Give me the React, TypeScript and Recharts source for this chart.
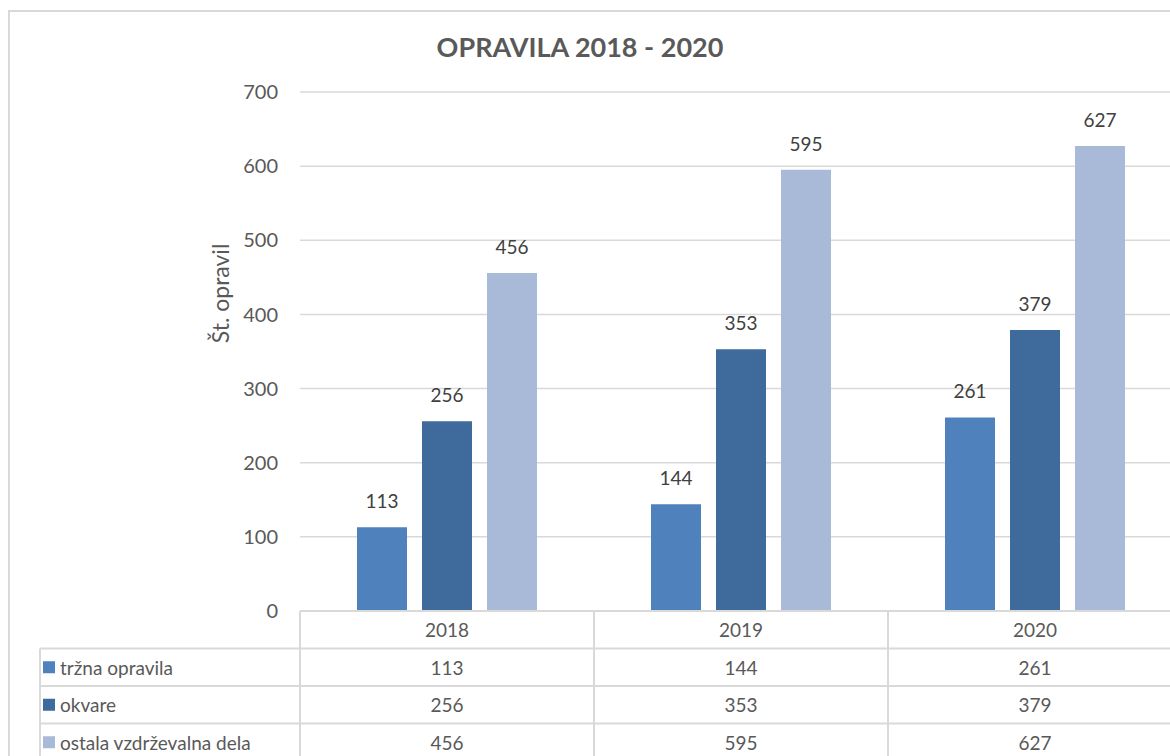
import React from 'react';
import { BarChart, Bar, XAxis, YAxis, CartesianGrid, LabelList } from 'recharts';

const years = ['2018', '2019', '2020'];
const trznaOpravila = [113, 144, 261];
const okvare = [256, 353, 379];
const ostalaDela = [456, 595, 627];
const yTicks = [0, 100, 200, 300, 400, 500, 600, 700];

const seriesNames = ['tržna opravila', 'okvare', 'ostala vzdrževalna dela'];
const seriesKeys = ['trzna', 'okvare', 'ostala'];
const seriesColors = ['#4f81bd', '#3f6a9c', '#a9b9d8'];
const seriesValues = [trznaOpravila, okvare, ostalaDela];

const data = years.map((year, i) => ({
  year,
  trzna: trznaOpravila[i],
  okvare: okvare[i],
  ostala: ostalaDela[i],
}));

const FONT = 'Lato, "Open Sans", sans-serif';
const TEXT = '#595959';
const LINE = '#d9d9d9';

// plot geometry (matches the chart margins below)
const PLOT_LEFT = 300;
const PLOT_BOTTOM = 611;
const BAND = 294;
const ROW_H = 37.5;

const YLabel = (props: any) => {
  const { viewBox } = props;
  const cx = viewBox.x - 20;
  const cy = viewBox.y + viewBox.height / 2 - 58;
  return (
    <text
      x={cx}
      y={cy}
      transform={`rotate(-90, ${cx}, ${cy})`}
      textAnchor="middle"
      dominantBaseline="central"
      fill={TEXT}
      fontSize={23}
      fontFamily={FONT}
    >
      Št. opravil
    </text>
  );
};

function DataTable() {
  const top = PLOT_BOTTOM;
  const colX = years.map((_, i) => PLOT_LEFT + i * BAND);
  const right = PLOT_LEFT + years.length * BAND;
  const rows = seriesNames.length;
  return (
    <svg
      width={1200}
      height={220}
      style={{ position: 'absolute', left: 0, top: top, overflow: 'visible' }}
    >
      <line x1={PLOT_LEFT} x2={right} y1={0} y2={0} stroke={LINE} strokeWidth={2} />
      {Array.from({ length: rows + 1 }).map((_, r) => (
        <line
          key={'h' + r}
          x1={40}
          x2={right}
          y1={ROW_H * (r + 1)}
          y2={ROW_H * (r + 1)}
          stroke={LINE}
          strokeWidth={2}
        />
      ))}
      <line x1={40} x2={40} y1={ROW_H} y2={220} stroke={LINE} strokeWidth={2} />
      {colX.map((x, i) => (
        <line key={'v' + i} x1={x} x2={x} y1={0} y2={220} stroke={LINE} strokeWidth={2} />
      ))}
      {years.map((y, i) => (
        <text
          key={'y' + y}
          x={colX[i] + BAND / 2}
          y={ROW_H / 2}
          textAnchor="middle"
          dominantBaseline="central"
          fill={TEXT}
          fontSize={19}
          fontFamily={FONT}
        >
          {y}
        </text>
      ))}
      {seriesNames.map((name, r) => (
        <g key={'r' + r}>
          <rect x={43} y={ROW_H * (r + 1.5) - 6} width={12} height={12} fill={seriesColors[r]} />
          <text
            x={60}
            y={ROW_H * (r + 1.5)}
            dominantBaseline="central"
            fill={TEXT}
            fontSize={19}
            fontFamily={FONT}
          >
            {name}
          </text>
          {seriesValues[r].map((v, i) => (
            <text
              key={'c' + i}
              x={colX[i] + BAND / 2}
              y={ROW_H * (r + 1.5)}
              textAnchor="middle"
              dominantBaseline="central"
              fill={TEXT}
              fontSize={19}
              fontFamily={FONT}
            >
              {v}
            </text>
          ))}
        </g>
      ))}
    </svg>
  );
}

export default function App() {
  return (
    <div
      style={{
        position: 'fixed',
        left: 0,
        top: 0,
        width: 1170,
        height: 756,
        overflow: 'hidden',
        background: '#fff',
        fontFamily: FONT,
      }}
    >
      {/* outer chart frame */}
      <div
        style={{
          position: 'absolute',
          left: 8,
          top: 10,
          width: 1300,
          height: 900,
          borderLeft: `2px solid ${LINE}`,
          borderTop: `2px solid ${LINE}`,
        }}
      />
      <div
        style={{
          position: 'absolute',
          left: 0,
          width: 1160,
          top: 29,
          textAlign: 'center',
          color: TEXT,
          fontWeight: 700,
          fontSize: 27,
          lineHeight: '36px',
        }}
      >
        OPRAVILA 2018 - 2020
      </div>
      <div style={{ position: 'absolute', left: 0, top: 0 }}>
        <BarChart
          width={PLOT_LEFT + years.length * BAND}
          height={640}
          data={data}
          margin={{ top: 92, right: 0, left: 240, bottom: 29 }}
          barSize={50}
          barGap={15}
        >
          <CartesianGrid vertical={false} stroke={LINE} strokeWidth={1.5} />
          <XAxis dataKey="year" hide />
          <YAxis
            width={60}
            domain={[0, 700]}
            ticks={yTicks}
            axisLine={false}
            tickLine={false}
            tickMargin={16}
            tick={{ fill: TEXT, fontSize: 20, fontFamily: FONT }}
            label={<YLabel />}
          />
          {seriesKeys.map((k, i) => (
            <Bar key={k} dataKey={k} name={seriesNames[i]} fill={seriesColors[i]} isAnimationActive={false}>
              <LabelList
                dataKey={k}
                position="top"
                offset={19}
                fill="#404040"
                fontSize={19}
                fontFamily={FONT}
              />
            </Bar>
          ))}
        </BarChart>
      </div>
      <DataTable />
    </div>
  );
}
